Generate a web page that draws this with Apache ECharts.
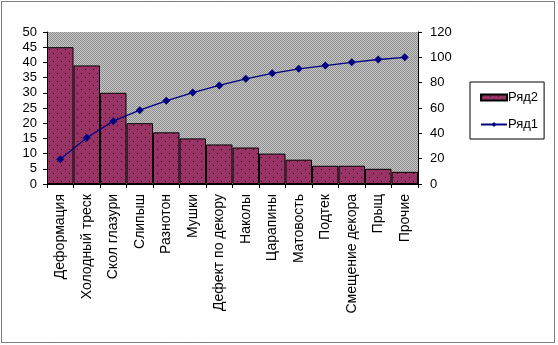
<!DOCTYPE html>
<html><head><meta charset="utf-8">
<script src="https://cdn.jsdelivr.net/npm/echarts@6/dist/echarts.min.js"></script>
<style>html,body{margin:0;padding:0;background:#fff}#c{width:558px;height:345px}</style>
</head><body><div id="c"></div>
<script>
const categories = ['Деформация','Холодный треск','Скол глазури','Слипыш','Разнотон','Мушки','Дефект по декору','Наколы','Царапины','Матовость','Подтек','Смещение декора','Прыщ','Прочие'];
const series2Values = [45,39,30,20,17,15,13,12,10,8,6,6,5,4];
const series1Values = [19.6,36.5,49.6,58.3,65.7,72.2,77.8,83.0,87.4,90.9,93.5,96.1,98.3,100];
const leftTicks = {min:0,max:50,interval:5};
const rightTicks = {min:0,max:120,interval:20};

function makePattern(bg, dot, size, pts){
  const c = document.createElement('canvas'); c.width=size; c.height=size;
  const g = c.getContext('2d'); g.fillStyle=bg; g.fillRect(0,0,size,size);
  g.fillStyle=dot; pts.forEach(p=>g.fillRect(p[0],p[1],1,1));
  return c;
}
const grayPat = makePattern('#c4c4c4','#909090',2,[[0,0],[1,1]]);
const barPat = makePattern('#993366','#2a0a1a',8,[[1,1],[5,5]]);

const chart = echarts.init(document.getElementById('c'),null,{renderer:'canvas'});
const font = 'Liberation Sans, Arial, sans-serif';
chart.setOption({
  animation:false,
  backgroundColor:'#fff',
  grid:{left:47,right:140,top:32,bottom:161,show:true,backgroundColor:{image:grayPat,repeat:'repeat'},borderWidth:0},
  legend:{orient:'vertical',left:470,top:82,width:79,height:52,padding:[9,6,8,10],itemGap:14,
    borderColor:'#000',borderWidth:1,backgroundColor:'#fff',itemWidth:26,itemHeight:6,
    textStyle:{fontFamily:font,fontSize:13,color:'#000',padding:[0,0,0,-4]},
    data:[{name:'Ряд2',icon:'rect'},{name:'Ряд1'}]},
  xAxis:{type:'category',data:categories,
    axisLine:{lineStyle:{color:'#000',width:1}},
    axisTick:{show:true,alignWithLabel:false,length:4,lineStyle:{color:'#000'}},
    axisLabel:{rotate:90,interval:0,fontFamily:font,fontSize:14,color:'#000',margin:10}},
  yAxis:[
    {type:'value',min:leftTicks.min,max:leftTicks.max,interval:leftTicks.interval,
     axisLine:{show:true,lineStyle:{color:'#000'}},axisTick:{show:true,length:4,lineStyle:{color:'#000'}},
     splitLine:{show:false},axisLabel:{fontFamily:font,fontSize:13,color:'#000',margin:10}},
    {type:'value',min:rightTicks.min,max:rightTicks.max,interval:rightTicks.interval,position:'right',
     axisLine:{show:true,lineStyle:{color:'#000'}},axisTick:{show:true,length:4,lineStyle:{color:'#000'}},
     splitLine:{show:false},axisLabel:{fontFamily:font,fontSize:13,color:'#000',margin:12}}
  ],
  series:[
    {name:'Ряд2',type:'bar',data:series2Values,yAxisIndex:0,barCategoryGap:'0%',
     itemStyle:{color:{image:barPat,repeat:'repeat'},borderColor:'#000',borderWidth:1}},
    {name:'Ряд1',type:'line',data:series1Values,yAxisIndex:1,symbol:'diamond',symbolSize:8,
     lineStyle:{color:'#000080',width:1.3},itemStyle:{color:'#000080'}}
  ],
  graphic:[{type:'rect',shape:{x:1.5,y:1.5,width:553,height:341},style:{fill:'none',stroke:'#000',lineWidth:1,lineDash:[1,1]},silent:true}]
});
</script></body></html>
